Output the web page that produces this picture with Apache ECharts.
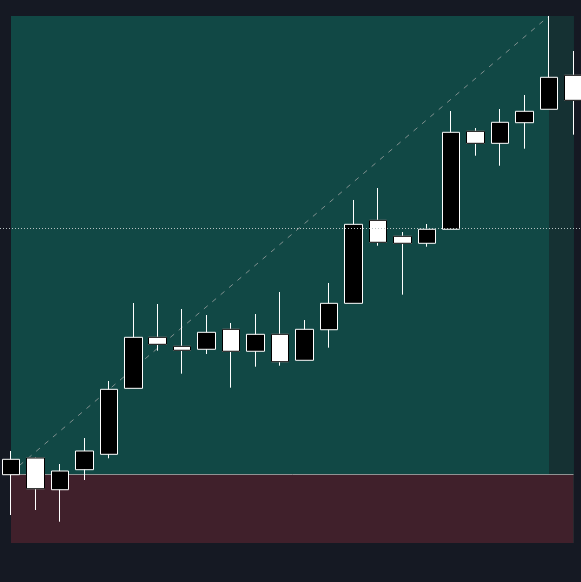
<!DOCTYPE html>
<html>
<head>
<meta charset="utf-8">
<script src="https://cdn.jsdelivr.net/npm/echarts@6/dist/echarts.min.js"></script>
<style>
html,body{margin:0;padding:0;background:#151923;}
#chart{width:581px;height:582px;}
</style>
</head>
<body>
<div id="chart"></div>
<script>
const categories = ['1','2','3','4','5','6','7','8','9','10','11','12','13','14','15','16','17','18','19','20','21','22','23','24'];
const opens  = [12.96,16.13,10.11,13.91,16.83,29.35,39.03,37.32,36.76,40.55,36.38,39.60,34.67,40.47,45.48,61.23,58.20,56.87,59.53,78.12,75.84,79.75,82.30,88.75];
const closes = [15.88,10.30,13.66,17.46,29.16,39.03,37.70,36.57,39.98,36.38,39.60,34.40,40.55,45.48,60.47,57.06,56.87,59.53,77.93,75.84,79.83,81.92,88.37,84.00];
const lows   = [5.31,6.26,4.04,11.95,16.07,29.35,36.49,32.13,35.86,29.47,33.45,33.64,34.67,37.06,45.48,56.41,47.12,56.22,59.53,73.49,71.59,74.82,82.30,77.48];
const highs  = [17.46,16.32,14.99,19.92,30.74,45.54,45.35,44.40,43.26,41.75,43.45,47.63,42.31,49.34,65.09,67.36,59.01,60.53,81.97,78.75,82.35,85.01,100.0,93.36];
const supportLevel = 13.1;
const resistanceLevel = 59.72;
const trendStart = 13.35;
const trendEnd = 100.0;
const trendStartIndex = 0;
const trendEndIndex = 22;
const zoneStartIndex = 22;
const zoneEndIndex = 23;
const yMin = 0;
const yMax = 100;

const candleData = categories.map((c, i) => [opens[i], closes[i], lows[i], highs[i]]);
const downOverlay = categories.map((c, i) => closes[i] < opens[i]
  ? [opens[i], closes[i], closes[i], opens[i]] : '-');

const chart = echarts.init(document.getElementById('chart'), null, {renderer: 'canvas'});
chart.setOption({
  animation: false,
  backgroundColor: '#151923',
  grid: [
    {left: 11, right: 7.5, top: 16, bottom: 39, show: true, backgroundColor: '#114845', borderWidth: 0},
    {left: 0, right: 0, top: 16, bottom: 39, show: false}
  ],
  xAxis: [
    {type: 'category', data: categories, boundaryGap: false, show: false, gridIndex: 0},
    {type: 'category', data: categories, boundaryGap: false, show: false, gridIndex: 1}
  ],
  yAxis: [
    {type: 'value', min: yMin, max: yMax, show: false, splitLine: {show: false}, gridIndex: 0},
    {type: 'value', min: yMin, max: yMax, show: false, splitLine: {show: false}, gridIndex: 1}
  ],
  series: [
    {
      type: 'candlestick',
      data: candleData,
      barWidth: 18,
      clip: false,
      z: 2,
      itemStyle: {color: '#000000', color0: '#ffffff', borderColor: '#ffffff', borderColor0: '#ffffff', borderWidth: 1},
      markArea: {
        silent: true,
        z: 1,
        data: [
          [{yAxis: yMin, itemStyle: {color: '#40202b'}}, {yAxis: supportLevel}],
          [{xAxis: zoneStartIndex, yAxis: supportLevel, itemStyle: {color: '#153133'}}, {xAxis: zoneEndIndex, yAxis: yMax}]
        ]
      },
      markLine: {
        silent: true,
        z: 1.5,
        symbol: 'none',
        label: {show: false},
        data: [
          {yAxis: supportLevel, lineStyle: {color: '#8f9393', width: 1, type: 'solid'}},
          [
            {coord: [trendStartIndex, trendStart], lineStyle: {color: '#80908f', width: 1, type: [5, 6]}},
            {coord: [trendEndIndex, trendEnd]}
          ]
        ]
      }
    },
    {
      type: 'candlestick',
      data: downOverlay,
      barWidth: 18,
      clip: false,
      z: 3,
      itemStyle: {color: '#000000', color0: '#ffffff', borderColor: '#ffffff', borderColor0: '#000000', borderWidth: 1}
    },
    {
      type: 'line',
      xAxisIndex: 1,
      yAxisIndex: 1,
      data: [],
      markLine: {
        silent: true,
        z: 5,
        symbol: 'none',
        label: {show: false},
        lineStyle: {color: '#b8c2c2', width: 1, type: [1, 2]},
        data: [{yAxis: resistanceLevel}]
      }
    }
  ]
});
</script>
</body>
</html>
